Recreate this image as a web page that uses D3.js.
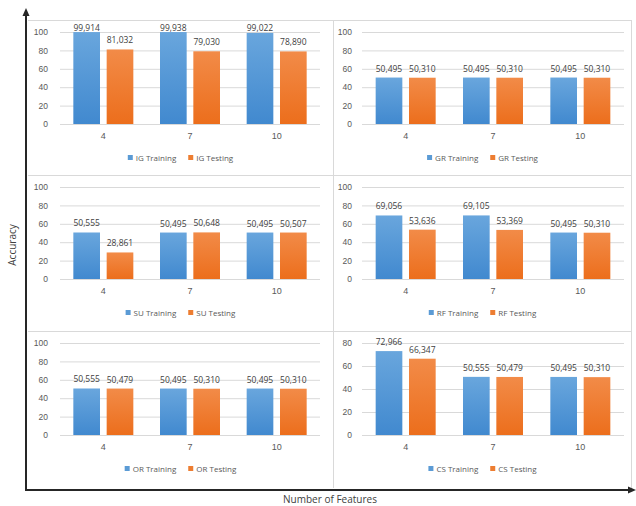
<!DOCTYPE html>
<html>
<head>
<meta charset="utf-8">
<script src="https://cdn.jsdelivr.net/npm/d3@7/dist/d3.min.js"></script>
<style>
  html, body { margin: 0; padding: 0; background: #fff; }
  svg { display: block; font-family: "Open Sans", "Liberation Sans", sans-serif; }
</style>
</head>
<body>
<svg id="chart" width="636" height="506"></svg>
<script>
// Feature-count categories shared by every panel
const categories = ["4", "7", "10"];
// Feature-selection methods, one panel each (row-major order)
const methods = ["IG", "GR", "SU", "RF", "OR", "CS"];
const seriesNames = ["Training", "Testing"];
// Accuracy (%) per method, per feature count
const trainingAcc = [
  [99.914, 99.938, 99.022],
  [50.495, 50.495, 50.495],
  [50.555, 50.495, 50.495],
  [69.056, 69.105, 50.495],
  [50.555, 50.495, 50.495],
  [72.966, 50.555, 50.495]
];
const testingAcc = [
  [81.032, 79.030, 78.890],
  [50.310, 50.310, 50.310],
  [28.861, 50.648, 50.507],
  [53.636, 53.369, 50.310],
  [50.479, 50.310, 50.310],
  [66.347, 50.479, 50.310]
];
// Upper bound of each panel's value axis
const axisMax = [100, 100, 100, 100, 100, 80];
const tickStep = 20;

const svg = d3.select("#chart");
const fmt = v => v.toFixed(3).replace(".", ",");

// gradients for the two series
const defs = svg.append("defs");
const grads = [
  { id: "gBlue", top: "#69a6dd", bottom: "#4189cf" },
  { id: "gOrange", top: "#f28b48", bottom: "#ec6e1c" }
];
grads.forEach(g => {
  const lg = defs.append("linearGradient").attr("id", g.id)
    .attr("x1", 0).attr("y1", 0).attr("x2", 0).attr("y2", 1);
  lg.append("stop").attr("offset", "0%").attr("stop-color", g.top);
  lg.append("stop").attr("offset", "100%").attr("stop-color", g.bottom);
});
const seriesFill = ["url(#gBlue)", "url(#gOrange)"];
const legendFill = ["#5b9bd5", "#ed7d31"];

// panel cells
const colX = [28, 333], colR = [333, 632];
const rowY = [20, 175, 331], rowB = [175, 331, 488];
const plotL = [60, 362], plotR = [320, 624];

// cell borders
const borderG = svg.append("g").attr("stroke", "#d9d9d9").attr("stroke-width", 1).attr("fill", "none");
borderG.append("line").attr("x1", 28).attr("x2", 632).attr("y1", 20.5).attr("y2", 20.5);
borderG.append("line").attr("x1", 28).attr("x2", 632).attr("y1", 175.5).attr("y2", 175.5);
borderG.append("line").attr("x1", 28).attr("x2", 632).attr("y1", 331.5).attr("y2", 331.5);
borderG.append("line").attr("x1", 333.5).attr("x2", 333.5).attr("y1", 20).attr("y2", 488);
borderG.append("line").attr("x1", 631.5).attr("x2", 631.5).attr("y1", 20).attr("y2", 488);

methods.forEach((m, i) => {
  const c = i % 2, r = Math.floor(i / 2);
  const top = rowY[r] + 12, bottom = rowY[r] + 104;
  const g = svg.append("g");

  const y = d3.scaleLinear().domain([0, axisMax[i]]).range([bottom, top]);
  const x0 = d3.scaleBand().domain(categories).range([plotL[c], plotR[c]]).padding(0);
  const x1 = d3.scaleBand().domain(seriesNames).range([-30, 30]).paddingInner(0.2);

  // gridlines + tick labels
  const ticks = d3.range(0, axisMax[i] + 1, tickStep);
  const yAxis = d3.axisLeft(y).tickValues(ticks).tickSize(-(plotR[c] - plotL[c])).tickPadding(c === 0 ? 12 : 10);
  const ya = g.append("g").attr("transform", `translate(${plotL[c]},0)`).call(yAxis);
  ya.select(".domain").remove();
  ya.selectAll(".tick line").attr("stroke", "#d9d9d9");
  ya.selectAll(".tick text").attr("fill", "#595959").attr("font-size", 8.5);

  // category labels
  const xAxis = d3.axisBottom(x0).tickSize(0).tickPadding(9);
  const xa = g.append("g").attr("transform", `translate(0,${bottom})`).call(xAxis);
  xa.select(".domain").remove();
  xa.selectAll(".tick text").attr("fill", "#595959").attr("font-size", 9);

  const series = [trainingAcc[i], testingAcc[i]];
  seriesNames.forEach((s, si) => {
    const data = categories.map((cat, k) => ({ cat, v: series[si][k] }));
    g.selectAll(null).data(data).enter().append("rect")
      .attr("x", d => x0(d.cat) + x0.bandwidth() / 2 + x1(s))
      .attr("width", x1.bandwidth())
      .attr("y", d => y(d.v))
      .attr("height", d => bottom - y(d.v))
      .attr("fill", seriesFill[si]);
    g.selectAll(null).data(data).enter().append("text")
      .attr("x", d => x0(d.cat) + x0.bandwidth() / 2 + x1(s) + x1.bandwidth() / 2)
      .attr("y", d => Math.max(y(d.v) - 9, rowY[r] + 8))
      .attr("dy", "0.35em")
      .attr("text-anchor", "middle")
      .attr("font-size", 8.5)
      .attr("fill", "#404040")
      .text(d => fmt(d.v));
  });

  // legend, centred in the cell
  const leg = g.append("g");
  let lx = 0;
  seriesNames.forEach((s, si) => {
    const item = leg.append("g").attr("transform", `translate(${lx},0)`);
    item.append("rect").attr("x", 0).attr("y", -3).attr("width", 5).attr("height", 5).attr("fill", legendFill[si]);
    const t = item.append("text").attr("x", 8).attr("y", 0).attr("dy", "0.35em")
      .attr("font-size", 8).attr("fill", "#595959").text(`${m} ${s}`);
    lx += 8 + t.node().getComputedTextLength() + 12;
  });
  const lw = lx - 12;
  leg.attr("transform", `translate(${(colX[c] + colR[c]) / 2 - lw / 2},${rowY[r] + 138})`);
});

// outer axes with arrowheads
const axG = svg.append("g");
axG.append("line").attr("x1", 26).attr("x2", 26).attr("y1", 490).attr("y2", 14)
  .attr("stroke", "#262626").attr("stroke-width", 2);
axG.append("path").attr("d", "M26,8 L22.5,16 L29.5,16 Z").attr("fill", "#262626");
axG.append("line").attr("x1", 25).attr("x2", 630).attr("y1", 490).attr("y2", 490)
  .attr("stroke", "#262626").attr("stroke-width", 2);
axG.append("path").attr("d", "M636,490 L628,486.5 L628,493.5 Z").attr("fill", "#262626");

svg.append("text").attr("transform", "translate(16,245) rotate(-90)")
  .attr("text-anchor", "middle").attr("font-size", 10).attr("fill", "#404040").text("Accuracy");
svg.append("text").attr("x", 330).attr("y", 503)
  .attr("text-anchor", "middle").attr("font-size", 10).attr("fill", "#404040").text("Number of Features");
</script>
</body>
</html>
